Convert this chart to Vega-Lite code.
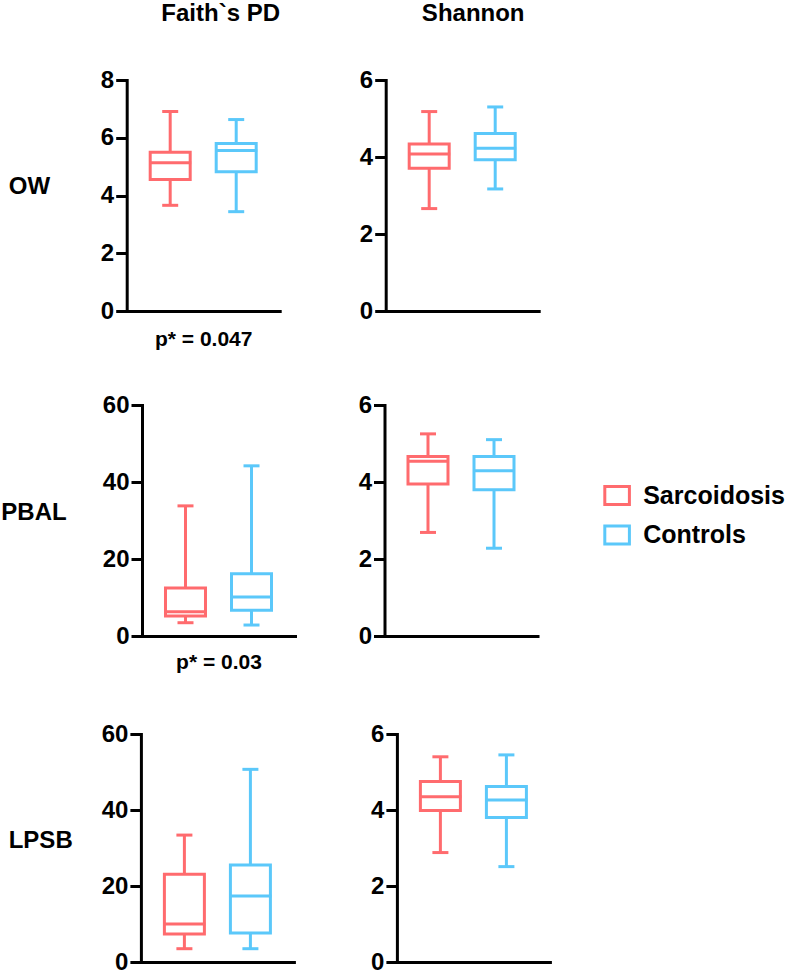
{
  "$schema": "https://vega.github.io/schema/vega-lite/v6.json",
  "padding": {"left": 0, "top": 2, "right": 0, "bottom": 0},
  "background": "white",
  "datasets": {
    "stats": [
      {"metric": "Faith", "site": "OW", "group": "Sarcoidosis", "min": 3.66, "q1": 4.55, "median": 5.13, "q3": 5.50, "max": 6.91},
      {"metric": "Faith", "site": "OW", "group": "Controls", "min": 3.44, "q1": 4.82, "median": 5.56, "q3": 5.80, "max": 6.63},
      {"metric": "Shannon", "site": "OW", "group": "Sarcoidosis", "min": 2.66, "q1": 3.71, "median": 4.08, "q3": 4.34, "max": 5.18},
      {"metric": "Shannon", "site": "OW", "group": "Controls", "min": 3.17, "q1": 3.93, "median": 4.23, "q3": 4.61, "max": 5.30},
      {"metric": "Faith", "site": "PBAL", "group": "Sarcoidosis", "min": 3.45, "q1": 5.2, "median": 6.3, "q3": 12.5, "max": 33.8},
      {"metric": "Faith", "site": "PBAL", "group": "Controls", "min": 2.85, "q1": 6.7, "median": 10.1, "q3": 16.2, "max": 44.2},
      {"metric": "Shannon", "site": "PBAL", "group": "Sarcoidosis", "min": 2.69, "q1": 3.95, "median": 4.54, "q3": 4.66, "max": 5.25},
      {"metric": "Shannon", "site": "PBAL", "group": "Controls", "min": 2.28, "q1": 3.80, "median": 4.29, "q3": 4.66, "max": 5.10},
      {"metric": "Faith", "site": "LPSB", "group": "Sarcoidosis", "min": 3.5, "q1": 7.4, "median": 10.0, "q3": 23.1, "max": 33.4},
      {"metric": "Faith", "site": "LPSB", "group": "Controls", "min": 3.5, "q1": 7.6, "median": 17.4, "q3": 25.5, "max": 50.7},
      {"metric": "Shannon", "site": "LPSB", "group": "Sarcoidosis", "min": 2.88, "q1": 3.99, "median": 4.35, "q3": 4.75, "max": 5.40},
      {"metric": "Shannon", "site": "LPSB", "group": "Controls", "min": 2.51, "q1": 3.80, "median": 4.26, "q3": 4.62, "max": 5.45}
    ]
  },
  "data": {"name": "stats"},
  "vconcat": [
    {
      "spacing": 44,
      "vconcat": [
        {
          "spacing": 40.7,
          "hconcat": [
            {
              "width": 59, "height": 231,
              "data": {"values": [{"label": "OW"}]},
              "mark": {"type": "text", "align": "center", "baseline": "middle", "dy": -9, "fontSize": 24, "fontWeight": "bold", "color": "#000"},
              "encoding": {"text": {"field": "label", "type": "nominal"}}
            },
            {
              "spacing": 78,
              "hconcat": [
                {
                  "width": 153, "height": 231,
                  "title": {"text": "Faith`s PD", "frame": "group", "anchor": "middle", "dx": 17.5, "offset": 42},
                  "transform": [{"filter": "datum.metric === 'Faith' && datum.site === 'OW'"}],
                  "encoding": {
                    "x": {"field": "group", "type": "nominal", "scale": {"domain": ["Sarcoidosis", "Controls"], "paddingInner": 0.348, "paddingOuter": 0.333}, "axis": {"labels": false, "ticks": false, "title": "p* = 0.047", "titleFontSize": 21, "titlePadding": 17}},
                    "color": {"field": "group", "type": "nominal", "title": null, "scale": {"domain": ["Sarcoidosis", "Controls"], "range": ["#ff6b6e", "#5bc8fa"]}}
                  },
                  "layer": [
                    {"mark": {"type": "rule", "strokeWidth": 3}, "encoding": {"y": {"field": "min", "type": "quantitative", "scale": {"domain": [0, 8], "nice": false}, "axis": {"values": [0, 2, 4, 6, 8], "title": null}}, "y2": {"field": "q1"}}},
                    {"mark": {"type": "rule", "strokeWidth": 3}, "encoding": {"y": {"field": "q3", "type": "quantitative"}, "y2": {"field": "max"}}},
                    {"mark": {"type": "bar", "filled": false, "strokeWidth": 3, "width": 40}, "encoding": {"y": {"field": "q1", "type": "quantitative"}, "y2": {"field": "q3"}}},
                    {"mark": {"type": "tick", "filled": false, "thickness": 1, "strokeWidth": 2, "size": 40}, "encoding": {"y": {"field": "median", "type": "quantitative"}}},
                    {"mark": {"type": "tick", "filled": false, "thickness": 1, "strokeWidth": 2, "size": 14}, "encoding": {"y": {"field": "min", "type": "quantitative"}}},
                    {"mark": {"type": "tick", "filled": false, "thickness": 1, "strokeWidth": 2, "size": 14}, "encoding": {"y": {"field": "max", "type": "quantitative"}}}
                  ]
                },
                {
                  "width": 153, "height": 231,
                  "title": {"text": "Shannon", "frame": "group", "anchor": "middle", "dx": 11, "offset": 42},
                  "transform": [{"filter": "datum.metric === 'Shannon' && datum.site === 'OW'"}],
                  "encoding": {
                    "x": {"field": "group", "type": "nominal", "scale": {"domain": ["Sarcoidosis", "Controls"], "paddingInner": 0.348, "paddingOuter": 0.333}, "axis": {"labels": false, "ticks": false, "title": null}},
                    "color": {"field": "group", "type": "nominal", "title": null, "scale": {"domain": ["Sarcoidosis", "Controls"], "range": ["#ff6b6e", "#5bc8fa"]}}
                  },
                  "layer": [
                    {"mark": {"type": "rule", "strokeWidth": 3}, "encoding": {"y": {"field": "min", "type": "quantitative", "scale": {"domain": [0, 6], "nice": false}, "axis": {"values": [0, 2, 4, 6], "title": null}}, "y2": {"field": "q1"}}},
                    {"mark": {"type": "rule", "strokeWidth": 3}, "encoding": {"y": {"field": "q3", "type": "quantitative"}, "y2": {"field": "max"}}},
                    {"mark": {"type": "bar", "filled": false, "strokeWidth": 3, "width": 40}, "encoding": {"y": {"field": "q1", "type": "quantitative"}, "y2": {"field": "q3"}}},
                    {"mark": {"type": "tick", "filled": false, "thickness": 1, "strokeWidth": 2, "size": 40}, "encoding": {"y": {"field": "median", "type": "quantitative"}}},
                    {"mark": {"type": "tick", "filled": false, "thickness": 1, "strokeWidth": 2, "size": 14}, "encoding": {"y": {"field": "min", "type": "quantitative"}}},
                    {"mark": {"type": "tick", "filled": false, "thickness": 1, "strokeWidth": 2, "size": 14}, "encoding": {"y": {"field": "max", "type": "quantitative"}}}
                  ]
                }
              ]
            }
          ]
        },
        {
          "spacing": 34,
          "hconcat": [
            {
              "width": 68, "height": 231,
              "data": {"values": [{"label": "PBAL"}]},
              "mark": {"type": "text", "align": "center", "baseline": "middle", "dy": -8, "fontSize": 24, "fontWeight": "bold", "color": "#000"},
              "encoding": {"text": {"field": "label", "type": "nominal"}}
            },
            {
              "spacing": 62.5,
              "hconcat": [
                {
                  "width": 153, "height": 231,
                  "transform": [{"filter": "datum.metric === 'Faith' && datum.site === 'PBAL'"}],
                  "encoding": {
                    "x": {"field": "group", "type": "nominal", "scale": {"domain": ["Sarcoidosis", "Controls"], "paddingInner": 0.348, "paddingOuter": 0.333}, "axis": {"labels": false, "ticks": false, "title": "p* = 0.03", "titleFontSize": 21, "titlePadding": 15}},
                    "color": {"field": "group", "type": "nominal", "title": null, "scale": {"domain": ["Sarcoidosis", "Controls"], "range": ["#ff6b6e", "#5bc8fa"]}}
                  },
                  "layer": [
                    {"mark": {"type": "rule", "strokeWidth": 3}, "encoding": {"y": {"field": "min", "type": "quantitative", "scale": {"domain": [0, 60], "nice": false}, "axis": {"values": [0, 20, 40, 60], "title": null}}, "y2": {"field": "q1"}}},
                    {"mark": {"type": "rule", "strokeWidth": 3}, "encoding": {"y": {"field": "q3", "type": "quantitative"}, "y2": {"field": "max"}}},
                    {"mark": {"type": "bar", "filled": false, "strokeWidth": 3, "width": 40}, "encoding": {"y": {"field": "q1", "type": "quantitative"}, "y2": {"field": "q3"}}},
                    {"mark": {"type": "tick", "filled": false, "thickness": 1, "strokeWidth": 2, "size": 40}, "encoding": {"y": {"field": "median", "type": "quantitative"}}},
                    {"mark": {"type": "tick", "filled": false, "thickness": 1, "strokeWidth": 2, "size": 14}, "encoding": {"y": {"field": "min", "type": "quantitative"}}},
                    {"mark": {"type": "tick", "filled": false, "thickness": 1, "strokeWidth": 2, "size": 14}, "encoding": {"y": {"field": "max", "type": "quantitative"}}}
                  ]
                },
                {
                  "width": 153, "height": 231,
                  "transform": [{"filter": "datum.metric === 'Shannon' && datum.site === 'PBAL'"}],
                  "encoding": {
                    "x": {"field": "group", "type": "nominal", "scale": {"domain": ["Sarcoidosis", "Controls"], "paddingInner": 0.348, "paddingOuter": 0.333}, "axis": {"labels": false, "ticks": false, "title": null}},
                    "color": {"field": "group", "type": "nominal", "title": null, "scale": {"domain": ["Sarcoidosis", "Controls"], "range": ["#ff6b6e", "#5bc8fa"]}}
                  },
                  "layer": [
                    {"mark": {"type": "rule", "strokeWidth": 3}, "encoding": {"y": {"field": "min", "type": "quantitative", "scale": {"domain": [0, 6], "nice": false}, "axis": {"values": [0, 2, 4, 6], "title": null}}, "y2": {"field": "q1"}}},
                    {"mark": {"type": "rule", "strokeWidth": 3}, "encoding": {"y": {"field": "q3", "type": "quantitative"}, "y2": {"field": "max"}}},
                    {"mark": {"type": "bar", "filled": false, "strokeWidth": 3, "width": 40}, "encoding": {"y": {"field": "q1", "type": "quantitative"}, "y2": {"field": "q3"}}},
                    {"mark": {"type": "tick", "filled": false, "thickness": 1, "strokeWidth": 2, "size": 40}, "encoding": {"y": {"field": "median", "type": "quantitative"}}},
                    {"mark": {"type": "tick", "filled": false, "thickness": 1, "strokeWidth": 2, "size": 14}, "encoding": {"y": {"field": "min", "type": "quantitative"}}},
                    {"mark": {"type": "tick", "filled": false, "thickness": 1, "strokeWidth": 2, "size": 14}, "encoding": {"y": {"field": "max", "type": "quantitative"}}}
                  ]
                }
              ]
            }
          ]
        }
      ]
    },
    {
      "spacing": 18.9,
      "hconcat": [
        {
          "width": 81.4, "height": 228,
          "data": {"values": [{"label": "LPSB"}]},
          "mark": {"type": "text", "align": "center", "baseline": "middle", "dy": -7, "fontSize": 24, "fontWeight": "bold", "color": "#000"},
          "encoding": {"text": {"field": "label", "type": "nominal"}}
        },
        {
          "spacing": 76,
          "hconcat": [
            {
              "width": 153, "height": 228,
              "transform": [{"filter": "datum.metric === 'Faith' && datum.site === 'LPSB'"}],
              "encoding": {
                "x": {"field": "group", "type": "nominal", "scale": {"domain": ["Sarcoidosis", "Controls"], "paddingInner": 0.348, "paddingOuter": 0.333}, "axis": {"labels": false, "ticks": false, "title": null}},
                "color": {"field": "group", "type": "nominal", "title": null, "scale": {"domain": ["Sarcoidosis", "Controls"], "range": ["#ff6b6e", "#5bc8fa"]}}
              },
              "layer": [
                {"mark": {"type": "rule", "strokeWidth": 3}, "encoding": {"y": {"field": "min", "type": "quantitative", "scale": {"domain": [0, 60], "nice": false}, "axis": {"values": [0, 20, 40, 60], "title": null}}, "y2": {"field": "q1"}}},
                {"mark": {"type": "rule", "strokeWidth": 3}, "encoding": {"y": {"field": "q3", "type": "quantitative"}, "y2": {"field": "max"}}},
                {"mark": {"type": "bar", "filled": false, "strokeWidth": 3, "width": 40}, "encoding": {"y": {"field": "q1", "type": "quantitative"}, "y2": {"field": "q3"}}},
                {"mark": {"type": "tick", "filled": false, "thickness": 1, "strokeWidth": 2, "size": 40}, "encoding": {"y": {"field": "median", "type": "quantitative"}}},
                {"mark": {"type": "tick", "filled": false, "thickness": 1, "strokeWidth": 2, "size": 14}, "encoding": {"y": {"field": "min", "type": "quantitative"}}},
                {"mark": {"type": "tick", "filled": false, "thickness": 1, "strokeWidth": 2, "size": 14}, "encoding": {"y": {"field": "max", "type": "quantitative"}}}
              ]
            },
            {
              "width": 153, "height": 228,
              "transform": [{"filter": "datum.metric === 'Shannon' && datum.site === 'LPSB'"}],
              "encoding": {
                "x": {"field": "group", "type": "nominal", "scale": {"domain": ["Sarcoidosis", "Controls"], "paddingInner": 0.348, "paddingOuter": 0.333}, "axis": {"labels": false, "ticks": false, "title": null}},
                "color": {"field": "group", "type": "nominal", "title": null, "scale": {"domain": ["Sarcoidosis", "Controls"], "range": ["#ff6b6e", "#5bc8fa"]}}
              },
              "layer": [
                {"mark": {"type": "rule", "strokeWidth": 3}, "encoding": {"y": {"field": "min", "type": "quantitative", "scale": {"domain": [0, 6], "nice": false}, "axis": {"values": [0, 2, 4, 6], "title": null}}, "y2": {"field": "q1"}}},
                {"mark": {"type": "rule", "strokeWidth": 3}, "encoding": {"y": {"field": "q3", "type": "quantitative"}, "y2": {"field": "max"}}},
                {"mark": {"type": "bar", "filled": false, "strokeWidth": 3, "width": 40}, "encoding": {"y": {"field": "q1", "type": "quantitative"}, "y2": {"field": "q3"}}},
                {"mark": {"type": "tick", "filled": false, "thickness": 1, "strokeWidth": 2, "size": 40}, "encoding": {"y": {"field": "median", "type": "quantitative"}}},
                {"mark": {"type": "tick", "filled": false, "thickness": 1, "strokeWidth": 2, "size": 14}, "encoding": {"y": {"field": "min", "type": "quantitative"}}},
                {"mark": {"type": "tick", "filled": false, "thickness": 1, "strokeWidth": 2, "size": 14}, "encoding": {"y": {"field": "max", "type": "quantitative"}}}
              ]
            }
          ]
        }
      ]
    }
  ],
  "spacing": 50,
  "config": {
    "font": "Liberation Sans",
    "view": {"stroke": null},
    "axis": {"domainColor": "#000", "domainWidth": 3, "domainCap": "square", "tickColor": "#000", "tickWidth": 3, "tickSize": 11, "labelFontSize": 24, "labelFontWeight": "bold", "labelColor": "#000", "labelPadding": 2, "grid": false, "titleFontSize": 24, "titleFontWeight": "bold", "titleColor": "#000"},
    "title": {"fontSize": 24, "fontWeight": "bold", "color": "#000"},
    "tick": {"opacity": 1},
    "bar": {"opacity": 1},
    "rule": {"opacity": 1},
    "legend": {"orient": "none", "legendX": 604.6, "legendY": 403, "labelFontSize": 25, "labelFontWeight": "bold", "labelColor": "#000", "labelOffset": 13.6, "rowPadding": 8.5, "symbolType": "M-1.367,-1H1.367V1H-1.367Z", "symbolSize": 324, "symbolStrokeWidth": 3, "symbolFillColor": "transparent", "symbolOpacity": 1}
  }
}
